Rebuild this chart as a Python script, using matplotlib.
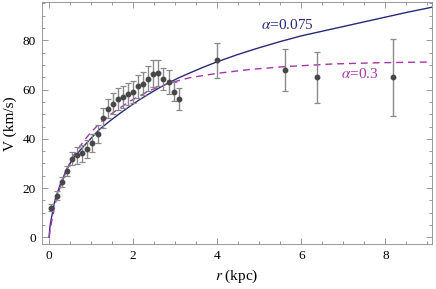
import numpy as np
import matplotlib
matplotlib.use('Agg')
import matplotlib.pyplot as plt
from matplotlib.ticker import MultipleLocator

plt.rcParams['font.family'] = ['Liberation Serif', 'DejaVu Serif']
plt.rcParams['mathtext.fontset'] = 'stix'

# observed rotation curve
r_obs = [0.05, 0.19, 0.31, 0.43, 0.55, 0.67, 0.79, 0.91, 1.03, 1.16, 1.27, 1.39,
         1.51, 1.63, 1.75, 1.88, 2.0, 2.12, 2.24, 2.36, 2.48, 2.6, 2.72, 2.84,
         2.96, 3.08, 4.0, 5.6, 6.38, 8.19]
v_obs = [12.1, 17.0, 22.6, 27.0, 31.9, 33.3, 34.2, 35.9, 38.3, 42.0, 48.4, 52.3,
         54.2, 56.2, 57.0, 58.2, 59.1, 61.3, 62.4, 64.4, 66.5, 66.6, 64.3, 63.1,
         59.1, 56.3, 71.8, 68.0, 65.0, 65.0]
v_err = [1.5, 2.0, 2.0, 2.0, 2.7, 3.5, 3.5, 3.5, 3.5, 3.5, 4.0, 4.0,
         4.3, 4.4, 4.5, 4.5, 4.5, 4.6, 4.8, 5.0, 5.3, 5.3, 4.5, 4.8,
         3.8, 4.5, 7.0, 8.5, 10.3, 15.7]

# model curves
r_a1 = [0, 0.01, 0.02, 0.06, 0.14, 0.26, 0.41, 0.57, 0.81, 1.0, 1.2, 1.44, 1.68, 1.92,
        2.15, 2.39, 2.63, 2.87, 3.1, 3.34, 3.67, 4.0, 4.5, 5.0, 5.5, 6.0, 6.5, 7.0,
        7.5, 8.0, 8.5, 9.1]
v_a1 = [0, 2.5, 4.5, 8.4, 15.2, 21.3, 27.4, 32.1, 36.8, 40.3, 43.9, 47.2, 50.3, 53.2,
        55.9, 58.4, 60.8, 63.0, 64.9, 66.7, 69.1, 71.3, 74.3, 77.0, 79.5, 81.8, 83.7, 85.6,
        87.5, 89.4, 91.3, 93.4]
r_a2 = [0, 0.01, 0.02, 0.06, 0.14, 0.26, 0.41, 0.57, 0.81, 0.97, 1.2, 1.44, 1.92,
        2.39, 2.87, 3.34, 4.0, 4.8, 5.6, 6.75, 7.86, 9.1]
v_a2 = [0, 1.5, 3.0, 6.5, 13.5, 20.3, 27.2, 33.0, 38.8, 42.2, 46.3, 49.7, 55.3,
        59.6, 62.7, 64.8, 66.6, 68.2, 69.3, 70.4, 70.9, 71.2]

navy = '#29297a'
purple = '#a436a8'

fig = plt.figure(figsize=(4.36, 2.89), dpi=100)
ax = fig.add_axes([0.0954, 0.1547, 0.8946, 0.838])

ax.plot(r_a1, v_a1, color=navy, lw=1.0, zorder=3)
ax.plot(r_a2, v_a2, color=purple, lw=1.0, dashes=(5, 3.5), zorder=3)
ax.errorbar(r_obs, v_obs, yerr=v_err, fmt='o', ms=3.2, mfc='#474747', mec='#474747',
            ecolor='#8a8a8a', elinewidth=1.0, capsize=2.5, capthick=0.9, zorder=4)

ax.text(5.67, 86.2, r'$\alpha$=0.075', color=navy, fontsize=11, ha='center', va='center')
ax.text(7.38, 66.3, r'$\alpha$=0.3', color=purple, fontsize=11, ha='center', va='center')

ax.set_xlim(-0.18, 9.1)
ax.set_ylim(-2.8, 95.5)
ax.xaxis.set_major_locator(MultipleLocator(2))
ax.xaxis.set_minor_locator(MultipleLocator(0.5))
ax.yaxis.set_major_locator(MultipleLocator(20))
ax.yaxis.set_minor_locator(MultipleLocator(5))
ax.tick_params(which='both', direction='in', top=True, right=True, colors='#888888',
               labelcolor='black', labelsize=9.5, width=0.6)
ax.tick_params(which='major', length=4, pad=4)
ax.tick_params(which='minor', length=2.5)
for s in ax.spines.values():
    s.set_color('#888888')
    s.set_linewidth(0.6)

ax.set_xlabel(r'$r$ (kpc)', fontsize=11, labelpad=4)
ax.set_ylabel('V (km/s)', fontsize=11, labelpad=4)

fig.savefig('out.png', dpi=100)
